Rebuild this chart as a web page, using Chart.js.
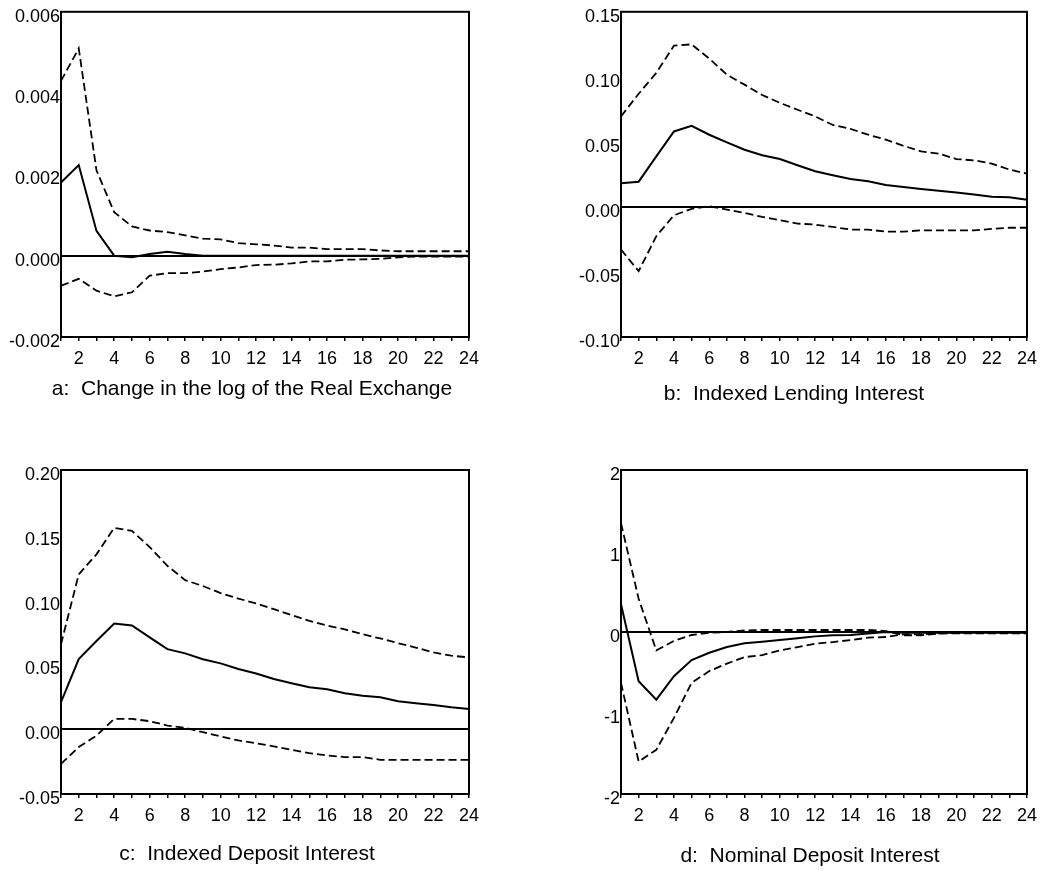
<!DOCTYPE html>
<html>
<head>
<meta charset="utf-8">
<script src="https://cdn.jsdelivr.net/npm/chart.js@4.4.1/dist/chart.umd.min.js"></script>
<style>
  html, body { margin: 0; padding: 0; background: #fff; overflow: hidden; }
  #page { position: relative; width: 1044px; height: 871px; }
  #page canvas { position: absolute; }
</style>
</head>
<body>
<div id="page">
  <canvas id="panelA" width="522" height="430" style="left:0;top:0"></canvas>
  <canvas id="panelB" width="522" height="430" style="left:522px;top:0"></canvas>
  <canvas id="panelC" width="522" height="441" style="left:0;top:430px"></canvas>
  <canvas id="panelD" width="522" height="441" style="left:522px;top:430px"></canvas>
</div>
<script>
// horizonte de la respuesta (periodos)
const periods = [1, 2, 3, 4, 5, 6, 7, 8, 9, 10, 11, 12, 13, 14, 15, 16, 17, 18, 19, 20, 21, 22, 23, 24];

// a: Change in the log of the Real Exchange
const aUpper = [0.0043, 0.0051, 0.0021, 0.00107, 0.00072, 0.00062, 0.00058, 0.0005, 0.00042, 0.0004, 0.00031, 0.00028,
                0.00025, 0.0002, 0.0002, 0.00016, 0.00016, 0.00016, 0.00013, 0.00011, 0.00011, 0.00011, 0.00011, 0.00011];
const aResp  = [0.0018, 0.00223, 0.00061, 0.0, -0.00004, 0.00004, 0.0001, 0.00004, 0.0, 0.0, 0.0, 0.0,
                0.0, 0.0, 0.0, 0.0, 0.0, 0.0, 0.0, 0.0, 0.0, 0.0, 0.0, 0.0];
const aLower = [-0.00074, -0.00057, -0.00086, -0.001, -0.0009, -0.00049, -0.00043, -0.00043, -0.00039, -0.00033, -0.00029, -0.00023,
                -0.00022, -0.00019, -0.00014, -0.00014, -0.0001, -0.00009, -0.00008, -0.00004, -0.00002, -0.00002, -0.00002, -0.00002];
const aTicks = { min: -0.002, max: 0.006, step: 0.002, decimals: 3 };

// b: Indexed Lending Interest
const bUpper = [0.0696, 0.087, 0.103, 0.124, 0.125, 0.114, 0.1016, 0.094, 0.086, 0.080, 0.0747, 0.0696,
                0.063, 0.060, 0.0555, 0.0517, 0.047, 0.0427, 0.041, 0.0368, 0.0358, 0.0333, 0.0287, 0.0256];
const bResp  = [0.0182, 0.0194, 0.0389, 0.058, 0.0624, 0.0555, 0.0496, 0.044, 0.0397, 0.0368, 0.032, 0.0274,
                0.0243, 0.0215, 0.0197, 0.0169, 0.0154, 0.0138, 0.0125, 0.011, 0.0095, 0.0079, 0.0074, 0.0056];
const bLower = [-0.0328, -0.0494, -0.0225, -0.0064, -0.0015, 0.0005, -0.002, -0.0046, -0.0077, -0.0102, -0.0128, -0.0136,
                -0.0154, -0.0174, -0.0174, -0.019, -0.019, -0.018, -0.018, -0.018, -0.018, -0.0169, -0.016, -0.016];
const bTicks = { min: -0.10, max: 0.15, step: 0.05, decimals: 2 };

// c: Indexed Deposit Interest
const cUpper = [0.0656, 0.1195, 0.1349, 0.1554, 0.153, 0.1405, 0.126, 0.115, 0.1105, 0.105, 0.1008, 0.097,
                0.0926, 0.088, 0.0836, 0.080, 0.077, 0.0733, 0.070, 0.0664, 0.063, 0.0592, 0.0567, 0.0554];
const cResp  = [0.0208, 0.0541, 0.068, 0.0815, 0.080, 0.0708, 0.0618, 0.0585, 0.054, 0.0508, 0.0464, 0.043,
                0.0387, 0.0354, 0.0323, 0.0308, 0.0277, 0.0259, 0.0246, 0.0215, 0.02, 0.0187, 0.0169, 0.0156];
const cLower = [-0.0267, -0.0138, -0.0049, 0.0079, 0.0079, 0.0062, 0.0028, 0.001, -0.0023, -0.0056, -0.0087, -0.0108,
                -0.0133, -0.0159, -0.0185, -0.0203, -0.0215, -0.0215, -0.0236, -0.0236, -0.0236, -0.0236, -0.0236, -0.0236];
const cTicks = { min: -0.05, max: 0.20, step: 0.05, decimals: 2 };

// d: Nominal Deposit Interest
const dUpper = [1.343, 0.41, -0.227, -0.11, -0.037, -0.01, 0.0, 0.02, 0.025, 0.025, 0.025, 0.025,
                0.025, 0.025, 0.025, 0.012, -0.04, -0.04, -0.02, -0.016, -0.016, -0.016, -0.016, -0.016];
const dResp  = [0.343, -0.607, -0.835, -0.545, -0.347, -0.256, -0.186, -0.14, -0.12, -0.1, -0.078, -0.054,
                -0.041, -0.037, -0.02, 0.0, -0.008, -0.008, -0.008, -0.008, -0.008, -0.008, -0.008, -0.008];
const dLower = [-0.628, -1.6, -1.455, -1.06, -0.628, -0.483, -0.39, -0.31, -0.285, -0.227, -0.186, -0.145,
                -0.124, -0.1, -0.07, -0.062, -0.029, -0.029, -0.016, -0.008, -0.008, -0.008, -0.008, -0.008];
const dTicks = { min: -2, max: 2, step: 1, decimals: 0 };

const FONT = '"Liberation Sans", Arial, sans-serif';

// marco completo alrededor del area del grafico
const boxPlugin = {
    id: 'box',
    afterDraw(chart) {
        const a = chart.chartArea;
        const ctx = chart.ctx;
        ctx.save();
        ctx.strokeStyle = '#000';
        ctx.lineWidth = 2;
        ctx.strokeRect(a.left, a.top, a.right - a.left, a.bottom - a.top);
        ctx.restore();
    }
};

// leyenda de cada panel debajo del eje
const captionPlugin = {
    id: 'caption',
    afterDraw(chart, args, opts) {
        const ctx = chart.ctx;
        ctx.save();
        ctx.font = '21px ' + FONT;
        ctx.fillStyle = '#000';
        ctx.textAlign = 'center';
        ctx.textBaseline = 'middle';
        ctx.fillText(opts.text, opts.x, opts.y);
        ctx.restore();
    }
};

function createPanel(canvasId, upper, resp, lower, yt, area, caption) {
    const ctx = document.getElementById(canvasId).getContext('2d');
    const band = (data) => ({
        data: data,
        borderColor: '#000',
        borderWidth: 1.8,
        borderDash: [8, 4],
        pointRadius: 0,
        tension: 0,
        fill: false
    });
    new Chart(ctx, {
        type: 'line',
        data: {
            labels: periods,
            datasets: [
                band(upper),
                {
                    data: resp,
                    borderColor: '#000',
                    borderWidth: 2,
                    pointRadius: 0,
                    tension: 0,
                    fill: false
                },
                band(lower)
            ]
        },
        options: {
            responsive: false,
            animation: false,
            layout: { padding: area.padding },
            plugins: {
                legend: { display: false },
                tooltip: { enabled: false },
                caption: caption
            },
            scales: {
                x: {
                    offset: false,
                    border: { display: false },
                    grid: {
                        drawOnChartArea: false,
                        drawTicks: true,
                        tickLength: 4,
                        color: '#000',
                        lineWidth: 1.5
                    },
                    ticks: {
                        autoSkip: false,
                        maxRotation: 0,
                        padding: 7,
                        color: '#000',
                        font: { family: FONT, size: 18 },
                        callback: function(value, index) {
                            const p = periods[index];
                            return p % 2 === 0 ? String(p) : '';
                        }
                    },
                    afterFit: (scale) => { scale.height = 30; }
                },
                y: {
                    min: yt.min,
                    max: yt.max,
                    border: { display: false },
                    grid: {
                        drawTicks: false,
                        lineWidth: 2,
                        color: (c) => Math.abs(c.tick.value) < 1e-9 ? '#000' : 'rgba(0,0,0,0)'
                    },
                    ticks: {
                        stepSize: yt.step,
                        padding: 1,
                        labelOffset: 5,
                        color: '#000',
                        font: { family: FONT, size: 18 },
                        callback: (v) => (Math.abs(v) < 1e-9 ? 0 : v).toFixed(yt.decimals)
                    },
                    afterFit: (scale) => { scale.width = area.axisWidth; }
                }
            }
        },
        plugins: [boxPlugin, captionPlugin]
    });
}

createPanel('panelA', aUpper, aResp, aLower, aTicks,
    { axisWidth: 61, padding: { left: 0, top: 11, right: 53, bottom: 63 } },
    { text: 'a:  Change in the log of the Real Exchange', x: 252, y: 389 });

createPanel('panelB', bUpper, bResp, bLower, bTicks,
    { axisWidth: 99, padding: { left: 0, top: 11, right: 16, bottom: 63 } },
    { text: 'b:  Indexed Lending Interest', x: 272, y: 394 });

createPanel('panelC', cUpper, cResp, cLower, cTicks,
    { axisWidth: 61, padding: { left: 0, top: 40, right: 53, bottom: 47 } },
    { text: 'c:  Indexed Deposit Interest', x: 247, y: 424 });

createPanel('panelD', dUpper, dResp, dLower, dTicks,
    { axisWidth: 99, padding: { left: 0, top: 40, right: 16, bottom: 47 } },
    { text: 'd:  Nominal Deposit Interest', x: 288, y: 426 });
</script>
</body>
</html>
